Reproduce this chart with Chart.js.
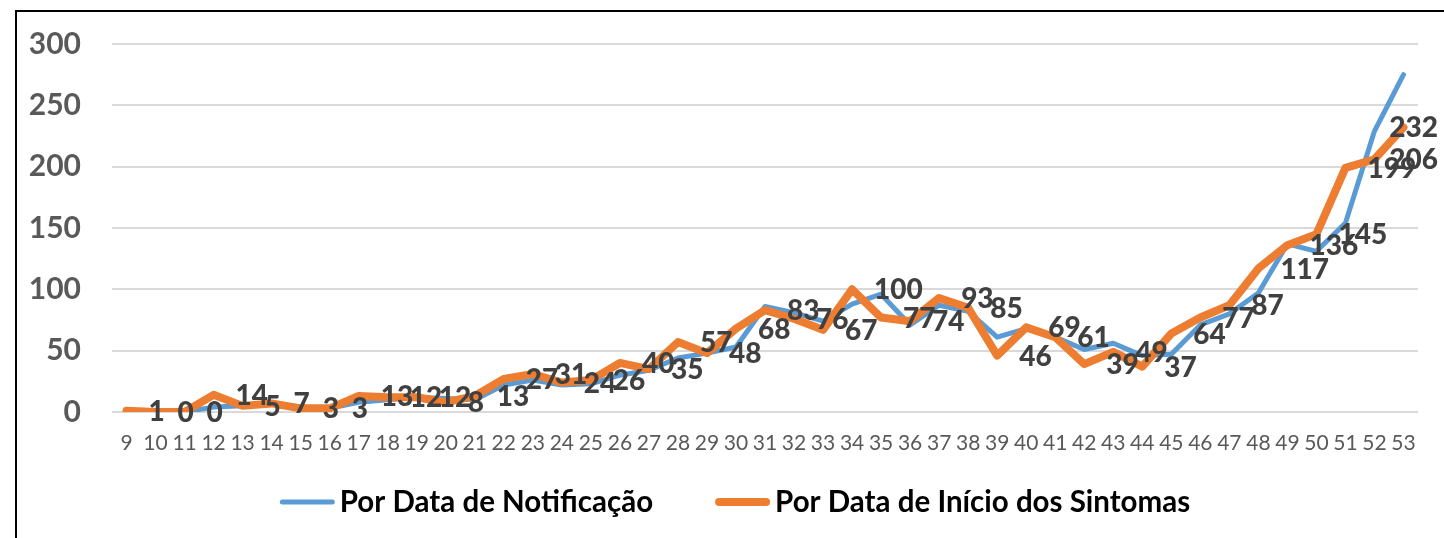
<!DOCTYPE html>
<html><head><meta charset="utf-8">
<script src="https://cdn.jsdelivr.net/npm/chart.js@4.4.1/dist/chart.umd.min.js"></script>
<style>
html,body{margin:0;padding:0;background:#fff;}
#wrap{position:relative;width:1444px;height:538px;overflow:hidden;}
#frame{position:absolute;left:15px;top:10px;width:1500px;height:600px;border-left:2px solid #000;border-top:2px solid #000;}
canvas{position:absolute;left:0;top:0;}
</style></head><body>
<div id="wrap"><div id="frame"></div><canvas id="c" width="1444" height="538"></canvas></div>
<script>
const weeks = ['9','10','11','12','13','14','15','16','17','18','19','20','21','22','23','24','25','26','27','28','29','30','31','32','33','34','35','36','37','38','39','40','41','42','43','44','45','46','47','48','49','50','51','52','53'];
const notificacao = [1,0,0,4,5,7,4,3,8,10,12,11,10,22,26,22,23,30,34,44,48,53,86,81,74,88,96,71,87,82,61,68,61,51,56,46,47,71,80,97,137,131,154,229,275];
const sintomas = [1,0,0,14,5,7,3,3,13,12,12,8,13,27,31,24,26,40,35,57,48,68,83,76,67,100,77,74,93,85,46,69,61,39,49,37,64,77,87,117,136,145,199,206,232];
const yMin = 0, yMax = 300, yStep = 50;
const seriesNames = ['Por Data de Notificação', 'Por Data de Início dos Sintomas'];
const seriesColors = ['#5B9BD5', '#ED7D31'];

const FONT = 'Lato, "Open Sans", sans-serif';

const dataLabels = {
  id: 'dataLabels',
  afterDatasetsDraw(chart) {
    const ctx = chart.ctx;
    const meta = chart.getDatasetMeta(1);
    const vals = chart.data.datasets[1].data;
    ctx.save();
    ctx.font = '900 28px ' + FONT;
    ctx.fillStyle = '#404040';
    ctx.textAlign = 'left';
    ctx.textBaseline = 'middle';
    meta.data.forEach((el, i) => {
      const t = String(vals[i]);
      const w = ctx.measureText(t).width;
      let x = el.x + 22;
      if (x + w > 1438) x = 1438 - w;
      ctx.fillText(t, x, el.y + 1);
    });
    ctx.restore();
  }
};

const customLegend = {
  id: 'customLegend',
  afterDraw(chart) {
    const ctx = chart.ctx;
    ctx.save();
    ctx.font = 'bold 29.5px ' + FONT;
    ctx.textBaseline = 'middle';
    ctx.textAlign = 'left';
    const y = 502;
    const lineW = 55, gapText = 5, gapItem = 62;
    const widths = seriesNames.map(n => ctx.measureText(n).width);
    const total = widths.reduce((a, b) => a + b, 0) + seriesNames.length * (lineW + gapText) + gapItem * (seriesNames.length - 1);
    let x = 735 - total / 2;
    chart.data.datasets.forEach((ds, i) => {
      ctx.strokeStyle = ds.borderColor;
      ctx.lineWidth = ds.borderWidth;
      ctx.lineCap = 'round';
      ctx.beginPath();
      ctx.moveTo(x + ds.borderWidth / 2, y);
      ctx.lineTo(x + lineW - ds.borderWidth / 2, y);
      ctx.stroke();
      x += lineW + gapText;
      ctx.fillStyle = '#000';
      ctx.fillText(ds.label, x, y);
      x += widths[i] + gapItem;
    });
    ctx.restore();
  }
};

new Chart(document.getElementById('c'), {
  type: 'line',
  data: {
    labels: weeks,
    datasets: [
      { label: seriesNames[0], data: notificacao, borderColor: seriesColors[0], backgroundColor: seriesColors[0], borderWidth: 5, pointRadius: 0, tension: 0, borderJoinStyle: 'round', borderCapStyle: 'round', order: 1 },
      { label: seriesNames[1], data: sintomas, borderColor: seriesColors[1], backgroundColor: seriesColors[1], borderWidth: 8, pointRadius: 0, tension: 0, borderJoinStyle: 'round', borderCapStyle: 'round', order: 0 }
    ]
  },
  options: {
    responsive: false,
    animation: false,
    layout: { padding: { top: 44, left: 0, right: 26, bottom: 86 } },
    plugins: { legend: { display: false }, tooltip: { enabled: false } },
    scales: {
      x: {
        offset: true,
        grid: { display: false, drawTicks: false },
        border: { display: false },
        ticks: { autoSkip: false, maxRotation: 0, padding: 19, color: '#595959', font: { family: FONT, size: 21 } },
        afterFit(s) { s.height = 40; s.paddingLeft = 0; s.paddingRight = 0; }
      },
      y: {
        min: yMin, max: yMax,
        grid: { color: '#d9d9d9', lineWidth: 2, drawTicks: false },
        border: { display: false },
        ticks: { stepSize: yStep, padding: 31, color: '#595959', font: { family: FONT, size: 30, weight: 'bold' } },
        afterFit(s) { s.width = 112; s.paddingTop = 0; s.paddingBottom = 0; }
      }
    }
  },
  plugins: [dataLabels, customLegend]
});
</script>
</body></html>
